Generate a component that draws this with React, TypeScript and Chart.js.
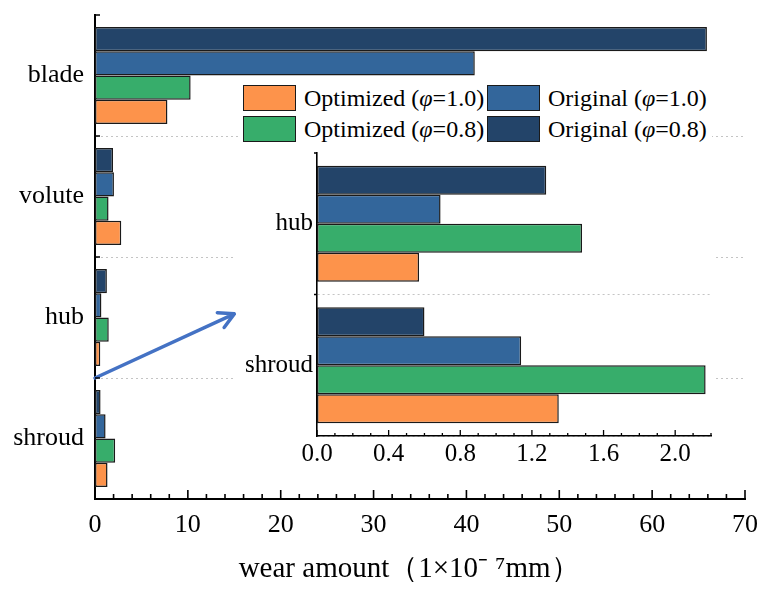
import React, { useEffect, useRef } from "react";
import { Chart, registerables } from "chart.js";

Chart.register(...registerables);

// wear amount, unit 1e-7 mm
const categories = ["blade", "volute", "hub", "shroud"];
const original08 = [65.9, 1.94, 1.28, 0.6];
const original10 = [40.9, 2.04, 0.69, 1.14];
const optimized08 = [10.3, 1.46, 1.48, 2.17];
const optimized10 = [7.8, 2.83, 0.57, 1.35];

// inset zooms into the last two categories
const insetFrom = 2;
const insetCategories = categories.slice(insetFrom);

const mainTicks = [0, 10, 20, 30, 40, 50, 60, 70];
const insetTicks = [0, 0.4, 0.8, 1.2, 1.6, 2.0];

const seriesNames = ["Original (φ=0.8)", "Original (φ=1.0)", "Optimized (φ=0.8)", "Optimized (φ=1.0)"];
const seriesValues = [original08, original10, optimized08, optimized10];
const seriesColors = ["#234469", "#33669b", "#37ad6b", "#fd934b"];
const legendOrder = [3, 1, 2, 0];

// arrow pointing from the hub/shroud boundary to the inset, in data units
const arrowFrom = [0, 2.5];
const arrowTo = [15, 1.97];

const FONT = "'Liberation Serif', 'Times New Roman', serif";

const whiteBg = {
    id: "whiteBg",
    beforeDraw(chart: any) {
        const { ctx, width, height } = chart;
        ctx.save();
        ctx.fillStyle = "#fff";
        ctx.fillRect(0, 0, width, height);
        ctx.restore();
    },
};

// inward tick marks (origin style)
const axisTicks = {
    id: "axisTicks",
    afterDraw(chart: any, _args: any, opts: any) {
        const { ctx, chartArea } = chart;
        const x = chart.scales.x;
        const y = chart.scales.y;
        ctx.save();
        ctx.strokeStyle = "#000";
        ctx.lineWidth = opts.width;
        const n = Math.round((x.max - x.min) / opts.minorStep);
        ctx.beginPath();
        for (let i = 0; i <= n; i++) {
            const px = x.getPixelForValue(x.min + i * opts.minorStep);
            const len = i % opts.majorEvery === 0 ? opts.majorLen : opts.minorLen;
            ctx.moveTo(px, chartArea.bottom);
            ctx.lineTo(px, chartArea.bottom - len);
        }
        for (let i = 0; i < y.ticks.length; i++) {
            const py = y.getPixelForValue(i - 0.5);
            ctx.moveTo(chartArea.left - opts.yOut, py);
            ctx.lineTo(chartArea.left + opts.yIn, py);
        }
        ctx.stroke();
        ctx.restore();
    },
};

const arrow = {
    id: "arrow",
    afterDatasetsDraw(chart: any) {
        const { ctx } = chart;
        const x = chart.scales.x;
        const y = chart.scales.y;
        const x1 = x.getPixelForValue(arrowFrom[0]);
        const y1 = y.getPixelForValue(arrowFrom[1]);
        const x2 = x.getPixelForValue(arrowTo[0]);
        const y2 = y.getPixelForValue(arrowTo[1]);
        const a = Math.atan2(y2 - y1, x2 - x1);
        const head = 17;
        ctx.save();
        ctx.strokeStyle = "#4472c4";
        ctx.lineWidth = 3.5;
        ctx.lineCap = "round";
        ctx.lineJoin = "round";
        ctx.beginPath();
        ctx.moveTo(x1, y1);
        ctx.lineTo(x2, y2);
        ctx.moveTo(x2 - head * Math.cos(a - 0.5), y2 - head * Math.sin(a - 0.5));
        ctx.lineTo(x2, y2);
        ctx.lineTo(x2 - head * Math.cos(a + 0.5), y2 - head * Math.sin(a + 0.5));
        ctx.stroke();
        ctx.restore();
    },
};

const makeDatasets = (from: number) =>
    seriesNames.map((name, i) => ({
        label: name,
        data: seriesValues[i].slice(from),
        backgroundColor: seriesColors[i],
        borderColor: "#1a1a1a",
        borderWidth: 1.5,
        borderSkipped: false,
    }));

// drop the extra room chart.js keeps for half-labels
const noPadX = (h: number) => (s: any) => {
    s.height = h;
    s.paddingLeft = 0;
    s.paddingRight = 0;
};
const noPadY = (w: number) => (s: any) => {
    s.width = w;
    s.paddingTop = 0;
    s.paddingBottom = 0;
};

const MainChart = () => {
    const ref = useRef<HTMLCanvasElement>(null);

    useEffect(() => {
        const n = categories.length;
        const chart = new Chart(ref.current as HTMLCanvasElement, {
            type: "bar",
            data: { labels: categories, datasets: makeDatasets(0) as any },
            options: {
                indexAxis: "y",
                responsive: false,
                animation: false,
                layout: { padding: { top: 15, right: 28, left: 0, bottom: 0 } },
                datasets: { bar: { barPercentage: 1, categoryPercentage: 0.8 } },
                scales: {
                    x: {
                        min: 0,
                        max: 70,
                        afterBuildTicks: (s: any) => {
                            s.ticks = mainTicks.map((value) => ({ value }));
                        },
                        afterFit: noPadX(90),
                        grid: { display: false },
                        border: { display: true, color: "#000", width: 2 },
                        ticks: { color: "#000", font: { family: FONT, size: 26 }, padding: 3, maxRotation: 0 },
                        title: {
                            display: true,
                            text: "wear amount（1×10⁻ ⁷mm）   ",
                            color: "#000",
                            font: { family: FONT, size: 29 },
                            padding: { top: 0, bottom: 2 },
                        },
                    },
                    y: {
                        z: 1,
                        afterFit: noPadY(95),
                        grid: {
                            drawTicks: false,
                            lineWidth: 1,
                            color: (c: any) => (c.index === 0 || c.index === n ? "transparent" : "#c4c4c4"),
                        },
                        border: { display: true, color: "#000", width: 2, dash: [2, 3] },
                        ticks: { color: "#000", font: { family: FONT, size: 26 }, padding: 11 },
                    },
                },
                plugins: {
                    legend: { display: false },
                    tooltip: { enabled: false },
                    axisTicks: { width: 1.6, minorStep: 2, majorEvery: 5, majorLen: 9, minorLen: 5, yOut: 0, yIn: 5 },
                } as any,
            },
            plugins: [axisTicks, arrow],
        });
        return () => chart.destroy();
    }, []);

    return <canvas ref={ref} width={773} height={589} />;
};

const InsetChart = () => {
    const ref = useRef<HTMLCanvasElement>(null);

    useEffect(() => {
        const n = insetCategories.length;
        const chart = new Chart(ref.current as HTMLCanvasElement, {
            type: "bar",
            data: { labels: insetCategories, datasets: makeDatasets(insetFrom) as any },
            options: {
                indexAxis: "y",
                responsive: false,
                animation: false,
                layout: { padding: { top: 8, right: 3, left: 0, bottom: 0 } },
                datasets: { bar: { barPercentage: 1, categoryPercentage: 0.82 } },
                scales: {
                    x: {
                        min: 0,
                        max: 2.2,
                        afterBuildTicks: (s: any) => {
                            s.ticks = insetTicks.map((value) => ({ value }));
                        },
                        afterFit: noPadX(31),
                        grid: { display: false },
                        border: { display: true, color: "#000", width: 1.6 },
                        ticks: {
                            color: "#000",
                            font: { family: FONT, size: 25 },
                            padding: -5,
                            maxRotation: 0,
                            callback: (v: any) => Number(v).toFixed(1),
                        },
                    },
                    y: {
                        z: 1,
                        afterFit: noPadY(81),
                        grid: {
                            drawTicks: false,
                            lineWidth: 1,
                            color: (c: any) => (c.index === 0 || c.index === n ? "transparent" : "#c4c4c4"),
                        },
                        border: { display: true, color: "#000", width: 1.6, dash: [2, 3] },
                        ticks: { color: "#000", font: { family: FONT, size: 25 }, padding: 4 },
                    },
                },
                plugins: {
                    legend: { display: false },
                    tooltip: { enabled: false },
                    axisTicks: { width: 1.3, minorStep: 0.1, majorEvery: 4, majorLen: 6, minorLen: 3, yOut: 3, yIn: 0 },
                } as any,
            },
            plugins: [whiteBg, axisTicks],
        });
        return () => chart.destroy();
    }, []);

    return <canvas ref={ref} width={478} height={322} />;
};

const Legend = () => (
    <div
        style={{
            position: "absolute",
            left: 240,
            top: 82,
            width: 472,
            height: 62,
            background: "#fff",
            display: "grid",
            gridTemplateColumns: "244px 228px",
            gridAutoRows: "31px",
            paddingTop: 3,
            boxSizing: "border-box",
            fontFamily: FONT,
            fontSize: 24,
            color: "#000",
        }}
    >
        {legendOrder.map((i) => {
            const [pre, rest] = seriesNames[i].split("φ");
            return (
                <div key={i} style={{ display: "flex", alignItems: "center", height: 26, paddingLeft: 3 }}>
                    <span
                        style={{
                            width: 53,
                            height: 26,
                            boxSizing: "border-box",
                            background: seriesColors[i],
                            border: "1.5px solid #1a1a1a",
                            marginRight: 8,
                            flex: "none",
                        }}
                    />
                    <span style={{ whiteSpace: "nowrap", lineHeight: "26px" }}>
                        {pre}
                        <i>φ</i>
                        {rest}
                    </span>
                </div>
            );
        })}
    </div>
);

export default function App() {
    return (
        <div style={{ position: "fixed", left: 0, top: 0, width: 773, height: 589, background: "#fff" }}>
            <MainChart />
            <div style={{ position: "absolute", left: 236, top: 145, width: 478, height: 322 }}>
                <InsetChart />
            </div>
            <Legend />
        </div>
    );
}
